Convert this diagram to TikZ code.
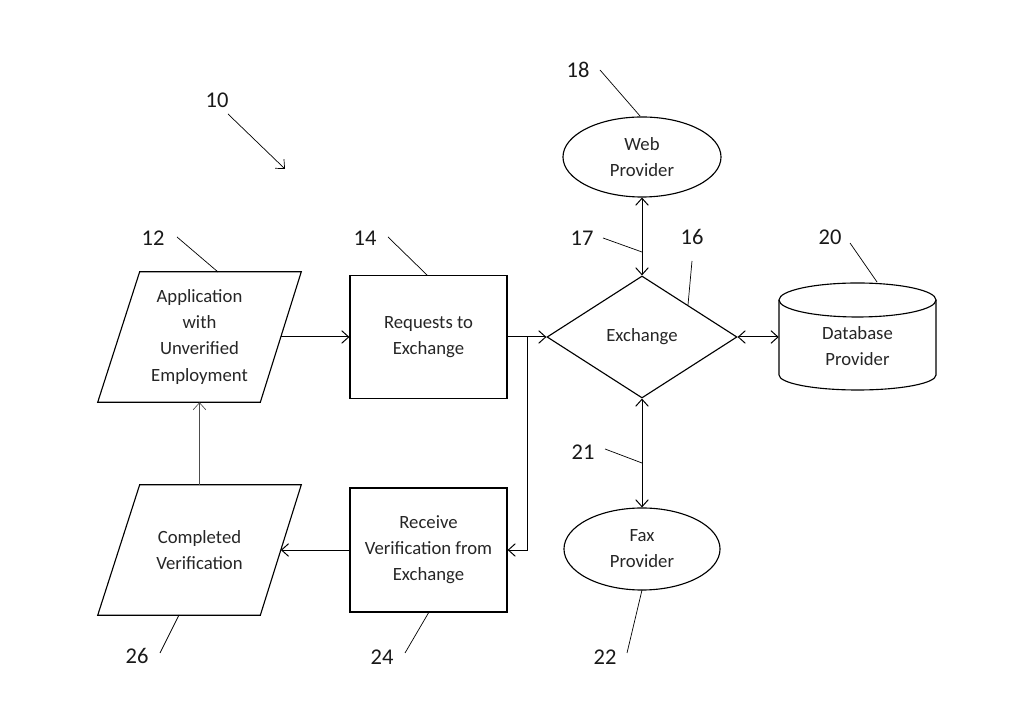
\documentclass[tikz,border=0pt]{standalone}
\usepackage{fontspec}
\setmainfont{Carlito}
\usetikzlibrary{shapes.geometric,arrows.meta,calc}
\begin{document}
\begin{tikzpicture}[x=0.025cm,y=0.025cm,
  txt/.style={font=\fontsize{13.3}{18.5}\selectfont, align=center, text=black!85},
  num/.style={font=\fontsize{16}{18}\selectfont, text=black!90, inner sep=0},
  shp/.style={draw, line width=0.8pt},
  conn/.style={line width=0.7pt, -{Straight Barb[length=5pt,width=9pt]}},
  bconn/.style={line width=0.7pt, {Straight Barb[length=5pt,width=9pt]}-{Straight Barb[length=5pt,width=9pt]}},
  lconn/.style={line width=0.45pt, draw=black!70, -{Straight Barb[length=5pt,width=9pt]}},
  lead/.style={line width=0.5pt},
]
\fill[white] (0,0) rectangle (1024,708);
\useasboundingbox (0,0) rectangle (1024,708);

% Application (parallelogram)
\node[txt, minimum width=5.075cm, minimum height=3.25cm, inner sep=0] (app) at (199.5,371) {Application\\with\\Unverified\\Employment};
\draw[shp] ($(app.north west)+(42,0)$) -- (app.north east) -- ($(app.south east)+(-41,0)$) -- (app.south west) -- cycle;
\coordinate (appR) at ($(app.east)+(-20.5,0)$);

% Requests to Exchange
\node[txt, shp, minimum width=3.925cm, minimum height=3.075cm, inner sep=0] (req) at (428.5,371) {Requests to\\Exchange};

% Exchange diamond
\node[txt, shp, diamond, minimum width=4.75cm, minimum height=3.05cm, inner sep=0] (exch) at (642,371) {Exchange};

% Web provider
\node[txt, shp, ellipse, minimum width=3.95cm, minimum height=2.0cm, inner sep=0] (web) at (642,551) {Web\\Provider};

% Fax provider
\node[txt, shp, ellipse, minimum width=3.9cm, minimum height=2.05cm, inner sep=0] (fax) at (642,159) {Fax\\Provider};

% Database provider (cylinder)
\node[minimum width=3.925cm, minimum height=2.675cm, inner sep=0] (db) at (857.5,371.5) {};
\node[txt] (dbt) at (857.5,362) {Database\\Provider};
\draw[shp] (857.5,408) ellipse [x radius=78.5, y radius=17];
\draw[shp] (779,408) -- (779,333) arc[start angle=180, end angle=360, x radius=78.5, y radius=15] -- (936,408);

% Receive verification
\node[txt, shp, minimum width=3.925cm, minimum height=3.1cm, inner sep=0] (ver) at (428.5,158) {Receive\\Verification from\\Exchange};

% Completed verification (parallelogram)
\node[txt, minimum width=5.075cm, minimum height=3.25cm, inner sep=0] (comp) at (199.5,158) {Completed\\Verification};
\draw[shp] ($(comp.north west)+(42,0)$) -- (comp.north east) -- ($(comp.south east)+(-41,0)$) -- (comp.south west) -- cycle;
\coordinate (compR) at ($(comp.east)+(-20.5,0)$);

% connectors
\draw[conn] (appR) -- (req.west);
\draw[conn] (req.east) -- (exch.west);
\coordinate (j) at ($(req.east)!0.5!(exch.west)$);
\draw[conn] (j) |- (ver.east);
\draw[bconn] (web.south) -- (exch.north);
\draw[bconn] (exch.south) -- (fax.north);
\draw[bconn] (exch.east) -- (exch.east -| db.west);
\draw[conn] (ver.west) -- (compR);
\draw[lconn] (comp.north) -- (app.south);

% reference numerals
\node[num] (n10) at (217,608) {10};
\coordinate (a10s) at (228,594); \coordinate (a10e) at (285,539);
\draw[lead, -{Straight Barb[length=5pt,width=9pt]}] (a10s) -- (a10e);

\node[num] (n12) at (153,470) {12};
\coordinate (l12a) at (177,471); \coordinate (l12b) at (218,436);
\draw[lead] (l12a) -- (l12b);

\node[num] (n14) at (365,470) {14};
\coordinate (l14a) at (388,471); \coordinate (l14b) at (427,433);
\draw[lead] (l14a) -- (l14b);

\node[num] (n18) at (578,638) {18};
\coordinate (l18a) at (600,638); \coordinate (l18b) at (640,592);
\draw[lead] (l18a) -- (l18b);

\node[num] (n17) at (582,470) {17};
\coordinate (l17a) at (603,470); \coordinate (l17b) at (642,456);
\draw[lead] (l17a) -- (l17b);

\node[num] (n16) at (692,471) {16};
\coordinate (l16a) at (692,447); \coordinate (l16b) at (688,403);
\draw[lead] (l16a) -- (l16b);

\node[num] (n20) at (830,471) {20};
\coordinate (l20a) at (850,465); \coordinate (l20b) at (877,426);
\draw[lead] (l20a) -- (l20b);

\node[num] (n21) at (583,256) {21};
\coordinate (l21a) at (605,259); \coordinate (l21b) at (642,245);
\draw[lead] (l21a) -- (l21b);

\node[num] (n22) at (605,51) {22};
\coordinate (l22a) at (627,55); \coordinate (l22b) at (642,118);
\draw[lead] (l22a) -- (l22b);

\node[num] (n24) at (382,51) {24};
\coordinate (l24a) at (405,55); \coordinate (l24b) at (429,96);
\draw[lead] (l24a) -- (l24b);

\node[num] (n26) at (137,52) {26};
\coordinate (l26a) at (160,55); \coordinate (l26b) at (179,93);
\draw[lead] (l26a) -- (l26b);
\end{tikzpicture}
\end{document}
